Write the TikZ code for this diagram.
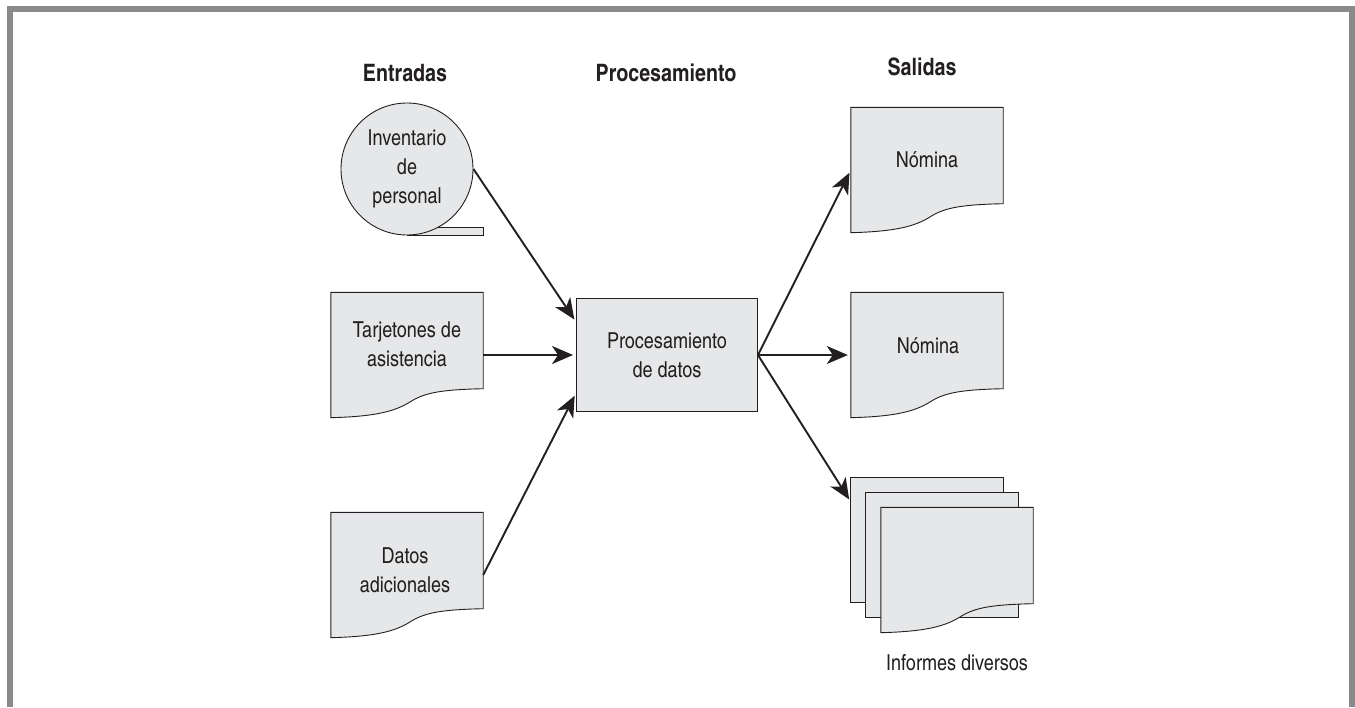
\documentclass[tikz,border=0pt]{standalone}
\usepackage{fontspec}
\setmainfont{texgyreheroscn}[Extension=.otf,UprightFont=*-regular,BoldFont=*-bold]
\usetikzlibrary{arrows.meta,positioning,calc,backgrounds}
\definecolor{FrameGray}{RGB}{138,138,140}
\definecolor{DocFill}{RGB}{230,231,232}
\definecolor{InkDark}{RGB}{35,31,32}
\newcommand{\docshape}[1]{%
  \draw[docline] (#1.north west) -- (#1.north east) -- ([yshift=29pt]#1.south east)
    .. controls ([xshift=-47pt,yshift=28pt]#1.south east) and ([xshift=92pt,yshift=24pt]#1.south west)
    .. ([xshift=78pt,yshift=15pt]#1.south west)
    .. controls ([xshift=60pt,yshift=4pt]#1.south west) and ([xshift=35pt,yshift=1pt]#1.south west)
    .. (#1.south west) -- cycle;}

\begin{document}
\begin{tikzpicture}[x=1pt,y=-1pt,
    txt/.style={font=\fontsize{22}{29}\selectfont,text=InkDark,align=center},
    head/.style={font=\fontsize{24}{28}\selectfont\bfseries,text=InkDark,anchor=base},
    docu/.style={minimum width=152pt,minimum height=125pt,inner sep=0pt},
    docline/.style={draw=InkDark,fill=DocFill,line width=0.9pt},
    tapebox/.style={circle,draw=InkDark,fill=DocFill,line width=0.9pt,
                    minimum size=132pt,inner sep=0pt,txt},
    procbox/.style={draw=InkDark,fill=DocFill,line width=0.9pt,
                    minimum width=181pt,minimum height=113pt,inner sep=0pt,txt},
    arr/.style={-{Stealth[length=21pt,width=18pt,inset=6pt]},InkDark,line width=1.9pt,shorten >=3pt},
    frame/.style={FrameGray,line width=6pt}
  ]
    \useasboundingbox (0,0) rectangle (1355,707);
    \draw[frame] (10,707) -- (10,9) -- (1352,9) -- (1352,707);

    % column titles
    \node[head] (hin) at (405,81) {Entradas};
    \node[head] (hproc) at (666,81) {Procesamiento};
    \node[head] (hout) at (922,75) {Salidas};

    % inputs
    \node[tapebox] (inv) at (407,169) {Inventario\\de\\personal};
    \node[docu] (tarj) at (407,355) {};
    \node[txt,anchor=base] (tarjt) at (407,366) {Tarjetones de\\asistencia};
    \node[docu] (datos) at (407,575) {};
    \node[txt,anchor=base] (datost) at (405,592) {Datos\\adicionales};

    % processing
    \node[procbox] (proc) at (667,355) {Procesamiento\\de datos};

    % outputs
    \node[docu] (nom1) at (927,170) {};
    \node[txt,anchor=base] (nom1t) at (927,167) {Nómina};
    \node[docu] (nom2) at (927,355) {};
    \node[txt,anchor=base] (nom2t) at (928,353) {Nómina};
    \node[docu] (infa) at (927,540) {};
    \node[docu] (infb) at (942,555) {};
    \node[docu] (infc) at (957,570) {};
    \node[txt,anchor=base] (inft) at (957,670) {Informes diversos};

    \begin{scope}[on background layer]
      \draw[docline] (inv.south) rectangle ([xshift=76pt,yshift=8pt]inv.south);
      \docshape{tarj}
      \docshape{datos}
      \docshape{nom1}
      \docshape{nom2}
      \draw[docline] (infa.north west) rectangle (infa.south east);
      \draw[docline] (infb.north west) rectangle (infb.south east);
      \docshape{infc}
    \end{scope}

    \draw[arr] (inv.east) -- ([yshift=33pt]proc.west);
    \draw[arr] (tarj.east) -- (proc.west);
    \draw[arr] (datos.east) -- ([yshift=-38pt]proc.west);
    \draw[arr] (proc.east) -- (nom1.west);
    \draw[arr] (proc.east) -- (nom2.west);
    \draw[arr] (proc.east) -- ([yshift=38pt]infa.west);
  \end{tikzpicture}
\end{document}
